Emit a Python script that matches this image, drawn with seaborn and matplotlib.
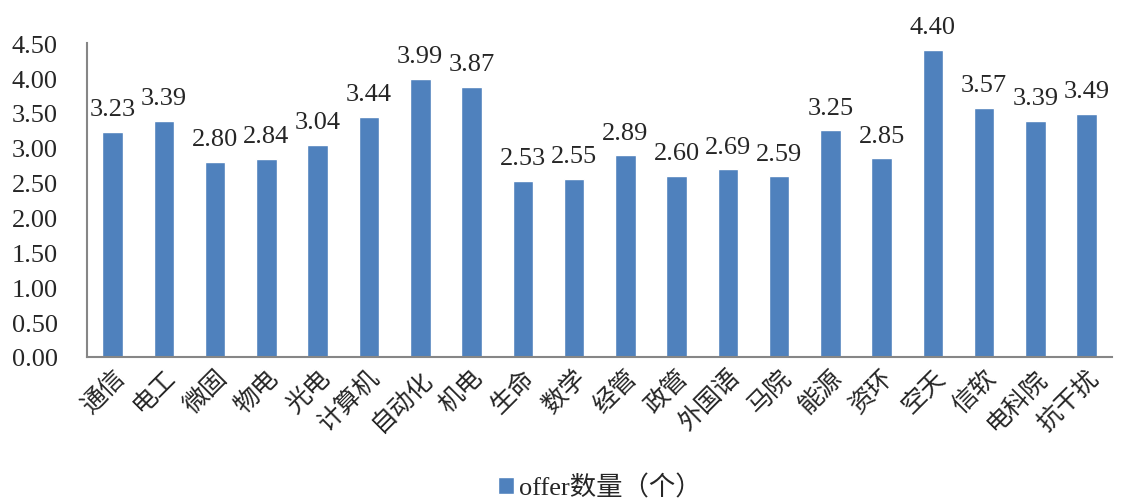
import matplotlib
matplotlib.use("Agg")
import matplotlib.pyplot as plt
import numpy as np
import pandas as pd
import seaborn as sns

categories = ["通信", "电工", "微固", "物电", "光电", "计算机", "自动化", "机电", "生命", "数学",
              "经管", "政管", "外国语", "马院", "能源", "资环", "空天", "信软", "电科院", "抗干扰"]
offers = [3.23, 3.39, 2.80, 2.84, 3.04, 3.44, 3.99, 3.87, 2.53, 2.55,
          2.89, 2.60, 2.69, 2.59, 3.25, 2.85, 4.40, 3.57, 3.39, 3.49]
yticks = np.arange(0, 4.51, 0.5)

df = pd.DataFrame({"学院": categories, "offer": offers})

sns.set_style("white")
plt.rcParams["font.family"] = ["Liberation Serif", "Noto Sans CJK SC"]
plt.rcParams["axes.unicode_minus"] = False

fig = plt.figure(figsize=(11.23, 5.02), dpi=100)
ax = fig.add_axes([0.0775, 0.287, 0.913, 0.625])

sns.barplot(data=df, x="学院", y="offer", color="#4F81BD", width=0.4,
            saturation=1, label="offer数量（个）", ax=ax)

# value labels
for i, v in enumerate(offers):
    ax.annotate(f"{v:.2f}", (i, v), xytext=(0, 12), textcoords="offset points",
                ha="center", va="baseline", fontsize=19)

ax.set_ylim(0, 4.5)
ax.set_xlim(-0.5, len(categories) - 0.5)
ax.set_yticks(yticks)
ax.set_yticklabels([f"{t:.2f}" for t in yticks], fontsize=19)
ax.set_xlabel("")
ax.set_ylabel("")

# x ticks between categories, labels at centres
ax.set_xticks(np.arange(len(categories)))
ax.set_xticklabels(categories, rotation=45, ha="right", rotation_mode="anchor", fontsize=18)
ax.tick_params(axis="x", length=0, pad=6)
ax.set_xticks(np.arange(-0.5, len(categories) - 0.4, 1), minor=True)
ax.tick_params(axis="x", which="minor", direction="in", length=6, color="#868686")
ax.tick_params(axis="y", direction="in", length=6, color="#868686", pad=21)

for side in ["top", "right"]:
    ax.spines[side].set_visible(False)
for side in ["left", "bottom"]:
    ax.spines[side].set_color("#868686")
    ax.spines[side].set_linewidth(1.5)

ax.legend(loc="lower center", bbox_to_anchor=(0.5, -0.53), frameon=False,
          fontsize=19, handlelength=0.6, handleheight=0.6, handletextpad=0.2)

fig.savefig("out.png", dpi=100)
